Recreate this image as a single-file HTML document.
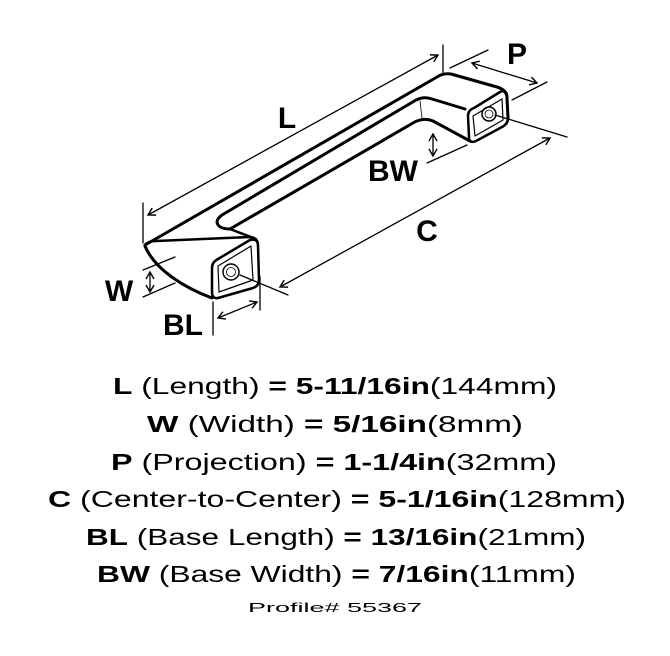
<!DOCTYPE html>
<html><head><style>
html,body{margin:0;padding:0;background:#fff;}
svg{display:block;}
</style></head><body>
<svg width="670" height="656" viewBox="0 0 670 656" xmlns="http://www.w3.org/2000/svg">
<defs>
<marker id="a" markerWidth="10" markerHeight="10" refX="8" refY="5" orient="auto-start-reverse" markerUnits="userSpaceOnUse">
<path d="M1,1 L8,5 L1,9" fill="none" stroke="#000" stroke-width="1.4"/>
</marker>
</defs>
<g fill="none" stroke="#000" stroke-linejoin="round" stroke-linecap="round">
<!-- outer top edge -->
<path d="M145,245 L437,77 Q443,73 451,74 L497,87 Q507,90 507,98 L508,118" stroke-width="3"/>
<!-- left end top face -->
<path d="M145,245 Q148,241 156,241 L250,237 Q258,238 258,245" stroke-width="2.5"/>
<!-- left end underside -->
<path d="M145,246 C155,270 185,288 212,298" stroke-width="3"/>
<!-- left end face -->
<path d="M212,268 Q212,262 218,259 L250,240 Q258,238 258,246 L259,280 Q259,286 253,288 L218,298 Q212,299 212,292 Z" stroke-width="2.5"/>
<path d="M218,266 L251,246 L253,280 L219,292 Z" stroke-width="1.2"/>
<circle cx="231" cy="272" r="8" stroke-width="1.5"/>
<circle cx="231" cy="272" r="4.5" stroke-width="0.8"/>
<!-- ridge / inner U -->
<path d="M465,109 L432,99 Q424,96 416,100 L222,215 Q214,221 219,226 Q222,229 230,229 L413,123 Q423,117 433,121 L470,141" stroke-width="3"/>
<path d="M230,229 L256,239" stroke-width="2.5"/>
<path d="M420,101 L422,118" stroke-width="0.8"/>
<!-- right end face -->
<path d="M468,116 Q468,110 474,108 L500,92 Q507,89 507,97 L508,118 Q508,124 502,127 L476,141 Q469,144 469,137 Z" stroke-width="2.5"/>
<path d="M473,116 L502,99 L503,120 L475,136 Z" stroke-width="1.2"/>
<circle cx="489" cy="114" r="7" stroke-width="1.5"/>
<circle cx="489" cy="114" r="4" stroke-width="0.8"/>
<!-- dimension lines -->
<g stroke-width="1.3">
<line x1="143" y1="203" x2="143" y2="243"/>
<line x1="443" y1="45" x2="443" y2="73"/>
<line x1="148" y1="215" x2="438" y2="55" marker-start="url(#a)" marker-end="url(#a)"/>
<line x1="450" y1="68" x2="488" y2="50"/>
<line x1="512" y1="100" x2="547" y2="82"/>
<line x1="472" y1="63" x2="537" y2="83" marker-start="url(#a)" marker-end="url(#a)"/>
<line x1="495" y1="115" x2="567" y2="137"/>
<line x1="240" y1="275" x2="288" y2="295"/>
<line x1="280" y1="287" x2="550" y2="138" marker-start="url(#a)" marker-end="url(#a)"/>
<line x1="433" y1="134" x2="433" y2="156" marker-start="url(#a)" marker-end="url(#a)"/>
<line x1="427" y1="163" x2="467" y2="145"/>
<line x1="150" y1="272" x2="150" y2="292" marker-start="url(#a)" marker-end="url(#a)"/>
<line x1="143" y1="270" x2="175" y2="257"/>
<line x1="143" y1="297" x2="175" y2="283"/>
<line x1="213" y1="302" x2="213" y2="335"/>
<line x1="260" y1="277" x2="260" y2="310"/>
<line x1="218" y1="318" x2="257" y2="302" marker-start="url(#a)" marker-end="url(#a)"/>
</g>
</g>
<g font-family="Liberation Sans, sans-serif" font-weight="bold" font-size="30" text-anchor="middle" fill="#000">
<text x="287" y="128">L</text>
<text x="517" y="64">P</text>
<text x="393" y="181">BW</text>
<text x="427" y="241">C</text>
<text x="119" y="301">W</text>
<text x="183" y="335">BL</text>
</g>
<g font-family="Liberation Sans, sans-serif" font-size="23" fill="#000">
<text x="113" y="394" textLength="444" lengthAdjust="spacingAndGlyphs"><tspan font-weight="bold">L</tspan> (Length) <tspan font-weight="bold">= 5-11/16in</tspan>(144mm)</text>
<text x="147" y="432" textLength="376" lengthAdjust="spacingAndGlyphs"><tspan font-weight="bold">W</tspan> (Width) <tspan font-weight="bold">= 5/16in</tspan>(8mm)</text>
<text x="111" y="470" textLength="446" lengthAdjust="spacingAndGlyphs"><tspan font-weight="bold">P</tspan> (Projection) <tspan font-weight="bold">= 1-1/4in</tspan>(32mm)</text>
<text x="48" y="507" textLength="578" lengthAdjust="spacingAndGlyphs"><tspan font-weight="bold">C</tspan> (Center-to-Center) <tspan font-weight="bold">= 5-1/16in</tspan>(128mm)</text>
<text x="86" y="545" textLength="500" lengthAdjust="spacingAndGlyphs"><tspan font-weight="bold">BL</tspan> (Base Length) <tspan font-weight="bold">= 13/16in</tspan>(21mm)</text>
<text x="97" y="582" textLength="479" lengthAdjust="spacingAndGlyphs"><tspan font-weight="bold">BW</tspan> (Base Width) <tspan font-weight="bold">= 7/16in</tspan>(11mm)</text>
<text x="248" y="612" font-size="13" textLength="174" lengthAdjust="spacingAndGlyphs">Profile# 55367</text>
</g>
</svg>
</body></html>
